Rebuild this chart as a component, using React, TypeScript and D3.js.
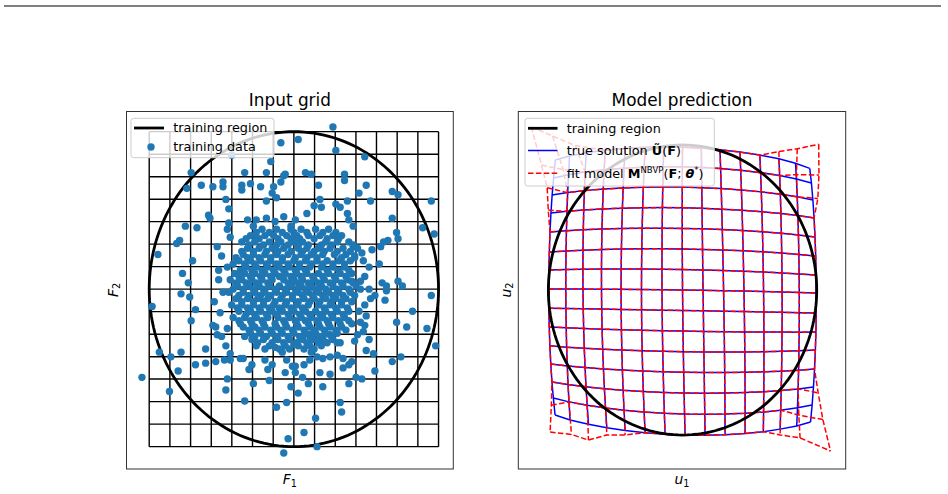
import React from 'react';
import * as d3 from 'd3';

const FONT = '"DejaVu Sans", "Liberation Sans", sans-serif';
const DOT = '#1f77b4';

// Input grid levels: 15 lines per direction across [-1, 1]
const gridLevels = [-1, -0.857, -0.714, -0.571, -0.429, -0.286, -0.143, 0, 0.143, 0.286, 0.429, 0.571, 0.714, 0.857, 1];

// Training samples (F1, F2), scattered part
const samplesOuter: [number, number][] = [
  [-0.43, 0.85], [-0.09, 0.93], [0.03, 0.95], [-0.16, 0.81], [-0.71, 0.74], [-0.34, 0.74], [-0.19, 0.74], [-0.06, 0.73], [0.08, 0.74], [0.12, 0.73],
  [-0.74, 0.64], [-0.64, 0.66], [-0.56, 0.65], [-0.49, 0.68], [-0.49, 0.65], [-0.36, 0.66], [-0.36, 0.63], [-0.30, 0.67], [-0.23, 0.65], [-0.14, 0.65],
  [-0.09, 0.68], [-0.07, 0.72], [-0.15, 0.61], [-0.47, 0.57], [-0.45, 0.51], [-0.19, 0.56], [-0.12, 0.58], [-0.59, 0.47], [-0.58, 0.45], [-0.75, 0.40],
  [-0.67, 0.39], [-0.45, 0.42], [-0.32, 0.44], [-0.26, 0.44], [-0.19, 0.45], [-0.13, 0.43], [-0.07, 0.46], [0.01, 0.44], [0.09, 0.48], [0.14, 0.53],
  [-0.79, 0.31], [-0.81, 0.29], [-0.94, 0.22], [-0.53, 0.27], [-0.46, 0.38], [-0.44, 0.33], [-0.26, 0.32], [-0.50, 0.21], [-0.70, 0.18], [-0.77, 0.10],
  [-0.73, 0.04], [-0.78, -0.03], [-0.72, -0.05], [-0.52, 0.06], [-0.49, -0.02], [-0.98, -0.11],
  [0.27, 1.03], [0.29, 0.88], [0.49, 0.84], [0.35, 0.73], [0.35, 0.69], [0.17, 0.66], [0.50, 0.66], [0.45, 0.61], [0.68, 0.62], [0.72, 0.60],
  [0.53, 0.56], [0.95, 0.56], [0.18, 0.57], [0.19, 0.52], [0.29, 0.54], [0.32, 0.52], [0.37, 0.56], [0.37, 0.48], [0.38, 0.44], [0.41, 0.40],
  [0.68, 0.45], [0.89, 0.39], [0.97, 0.35], [0.71, 0.36], [0.72, 0.32], [0.65, 0.31], [0.62, 0.30], [0.60, 0.27], [0.54, 0.25], [0.47, 0.23],
  [0.42, 0.21], [0.41, 0.27], [0.59, 0.16], [0.52, 0.14], [0.49, 0.08], [0.46, 0.05], [0.61, 0.04], [0.64, 0.02], [0.72, 0.05], [0.75, 0.02], [0.40, 0.05],
  [-0.68, -0.13], [-0.71, -0.20], [-0.56, -0.23], [-0.54, -0.24], [-0.46, -0.25], [-0.53, -0.29], [-0.50, -0.30], [-0.61, -0.38], [-0.78, -0.40], [-0.93, -0.40],
  [-0.85, -0.43], [-0.47, -0.36], [-0.44, -0.41], [-0.44, -0.45], [-0.48, -0.45], [-0.54, -0.46], [-0.61, -0.47], [-0.68, -0.48], [-0.80, -0.52], [-1.05, -0.56],
  [-0.86, -0.65], [-0.46, -0.57], [-0.47, -0.64], [-0.28, -0.60], [-0.34, -0.71], [-0.31, -0.51], [-0.29, -0.48], [-0.37, -0.44], [-0.35, -0.44], [-0.26, -0.36],
  [-0.20, -0.45], [-0.18, -0.51], [-0.17, -0.58], [-0.15, -0.48], [-0.12, -0.75], [-0.05, -0.72], [-0.06, -0.53], [-0.04, -0.95], [-0.07, -1.04], [-0.02, -0.62],
  [-0.13, -0.37], [-0.08, -0.40], [-0.05, -0.45], [-0.01, -0.49],
  [0.95, -0.04], [0.82, -0.14], [0.71, -0.21], [0.78, -0.24], [0.92, -0.25], [0.98, -0.36], [0.52, -0.32], [0.50, -0.39], [0.55, -0.41], [0.74, -0.43],
  [0.68, -0.46], [0.56, -0.52], [0.34, -0.44], [0.40, -0.46], [0.38, -0.48], [0.34, -0.50], [0.43, -0.56], [0.47, -0.57], [0.38, -0.60], [0.25, -0.54],
  [0.20, -0.62], [0.18, -0.53], [0.10, -0.60], [0.06, -0.56], [0.03, -0.66], [0.01, -0.53], [0.32, -0.72], [0.33, -0.78], [0.15, -0.82], [0.07, -0.91],
  [0.16, -1.00], [0.56, -0.04], [0.63, -0.07], [0.64, -0.01], [0.53, -0.06], [0.49, -0.10], [0.45, -0.14], [0.46, -0.21], [0.49, -0.23], [0.48, -0.27],
  [0.44, -0.29], [0.42, -0.33], [0.32, -0.34], [0.25, -0.29], [0.20, -0.31], [0.16, -0.32], [0.11, -0.29], [0.06, -0.31], [0.00, -0.35], [0.30, -0.42],
  [0.25, -0.43], [0.20, -0.44], [0.16, -0.43], [0.11, -0.45], [0.07, -0.48], [0.01, -0.49],
  [-0.52, 0.12], [-0.55, -0.08], [-0.51, -0.15], [0.52, 0.00], [0.50, -0.17], [-0.02, 0.40], [0.12, -0.40], [-0.28, 0.40],
];

// Training samples, dense central cluster: one F2 level with its F1 values per row
const samplesCoreRows: [number, number[]][] = [
  [0.38, [-0.22, -0.12, -0.02, 0.05, 0.15, 0.24]],
  [0.36, [-0.26, -0.17, -0.08, 0.00, 0.09, 0.20, 0.29]],
  [0.34, [-0.30, -0.20, -0.14, -0.05, 0.02, 0.10, 0.18, 0.27, 0.33]],
  [0.32, [-0.33, -0.24, -0.11, -0.02, 0.04, 0.14, 0.23, 0.31]],
  [0.30, [-0.36, -0.27, -0.17, -0.09, 0.00, 0.06, 0.22, 0.30, 0.38]],
  [0.28, [-0.31, -0.21, -0.12, -0.04, 0.03, 0.10, 0.19, 0.26, 0.41]],
  [0.26, [-0.32, -0.24, -0.15, -0.07, 0.03, 0.09, 0.17, 0.25, 0.34, 0.44]],
  [0.24, [-0.36, -0.28, -0.19, -0.11, -0.02, 0.06, 0.14, 0.21, 0.30, 0.39]],
  [0.22, [-0.35, -0.28, -0.20, -0.12, -0.04, 0.05, 0.12, 0.20, 0.28, 0.36]],
  [0.20, [-0.40, -0.32, -0.24, -0.16, -0.08, 0.01, 0.09, 0.16, 0.33, 0.42]],
  [0.18, [-0.38, -0.30, -0.23, -0.16, -0.08, 0.00, 0.08, 0.16, 0.23, 0.31, 0.39, 0.48]],
  [0.16, [-0.42, -0.34, -0.27, -0.19, -0.12, -0.04, 0.04, 0.12, 0.20, 0.27, 0.35]],
  [0.14, [-0.46, -0.33, -0.26, -0.18, -0.10, -0.03, 0.04, 0.11, 0.19, 0.27, 0.35]],
  [0.12, [-0.37, -0.29, -0.22, -0.14, -0.07, 0.01, 0.08, 0.23, 0.31, 0.38]],
  [0.10, [-0.41, -0.34, -0.27, -0.20, -0.13, -0.06, 0.02, 0.09, 0.17, 0.24, 0.32, 0.40]],
  [0.08, [-0.38, -0.30, -0.23, -0.16, -0.10, -0.02, 0.05, 0.13, 0.20, 0.28, 0.36]],
  [0.06, [-0.44, -0.36, -0.29, -0.22, -0.15, -0.07, 0.00, 0.06, 0.14, 0.21, 0.29, 0.37]],
  [0.04, [-0.40, -0.33, -0.26, -0.18, -0.04, 0.03, 0.10, 0.17, 0.25, 0.33, 0.41]],
  [0.02, [-0.39, -0.31, -0.24, -0.17, -0.10, -0.02, 0.05, 0.12, 0.19, 0.27, 0.34, 0.43]],
  [0.00, [-0.42, -0.35, -0.28, -0.21, -0.13, -0.06, 0.01, 0.08, 0.15, 0.22, 0.30, 0.38, 0.46]],
  [-0.02, [-0.45, -0.35, -0.27, -0.20, -0.12, -0.05, 0.03, 0.10, 0.17, 0.24, 0.31, 0.39]],
  [-0.04, [-0.38, -0.31, -0.23, -0.16, -0.08, -0.01, 0.06, 0.13, 0.20, 0.27, 0.34, 0.42]],
  [-0.06, [-0.40, -0.32, -0.25, -0.18, -0.09, -0.01, 0.07, 0.14, 0.22, 0.29, 0.36]],
  [-0.08, [-0.36, -0.28, -0.21, -0.13, -0.05, 0.03, 0.11, 0.18, 0.26, 0.33, 0.40]],
  [-0.10, [-0.43, -0.36, -0.28, -0.21, -0.14, -0.06, 0.02, 0.10, 0.17, 0.25, 0.33]],
  [-0.12, [-0.39, -0.32, -0.24, -0.17, -0.10, -0.02, 0.06, 0.21, 0.29, 0.37]],
  [-0.14, [-0.38, -0.30, -0.23, -0.15, -0.08, 0.00, 0.08, 0.15, 0.22, 0.30, 0.38]],
  [-0.16, [-0.33, -0.27, -0.19, -0.12, -0.04, 0.04, 0.11, 0.18, 0.26, 0.34]],
  [-0.18, [-0.42, -0.34, -0.26, -0.18, -0.11, -0.03, 0.05, 0.12, 0.20, 0.27, 0.35]],
  [-0.20, [-0.38, -0.30, -0.22, -0.07, 0.01, 0.08, 0.16, 0.23, 0.31, 0.38]],
  [-0.22, [-0.37, -0.29, -0.21, -0.13, -0.06, 0.02, 0.10, 0.17, 0.24, 0.32, 0.40]],
  [-0.24, [-0.35, -0.27, -0.20, -0.12, -0.05, 0.03, 0.11, 0.18, 0.25, 0.33]],
  [-0.26, [-0.31, -0.24, -0.16, -0.09, -0.01, 0.07, 0.14, 0.21, 0.29, 0.36]],
  [-0.28, [-0.30, -0.23, -0.15, -0.08, 0.00, 0.08, 0.15, 0.22, 0.30]],
  [-0.30, [-0.34, -0.27, -0.19, -0.12, -0.04, 0.04, 0.11, 0.18, 0.26]],
  [-0.32, [-0.29, -0.21, -0.11, -0.03, 0.06, 0.13, 0.20, 0.27]],
  [-0.34, [-0.25, -0.15, -0.07, 0.02, 0.09, 0.17, 0.23, 0.30]],
  [-0.36, [-0.17, -0.06, 0.03, 0.11, 0.19]],
  [-0.38, [-0.20, -0.10, -0.03, 0.07, 0.14]],
];

// True solution on the grid: u1 of each F1-line at the top, middle and bottom F2 rows
const trueColTop = [-0.948, -0.842, -0.718, -0.576, -0.428, -0.279, -0.14, 0.0, 0.14, 0.279, 0.428, 0.576, 0.718, 0.842, 0.948];
const trueColMid = [-0.997, -0.870, -0.742, -0.604, -0.458, -0.306, -0.153, 0.0, 0.153, 0.306, 0.458, 0.604, 0.742, 0.870, 0.997];
const trueColBot = [-0.950, -0.838, -0.701, -0.564, -0.428, -0.279, -0.130, 0.019, 0.168, 0.317, 0.466, 0.602, 0.727, 0.851, 0.954];
// u2 of each F2-line (top row first) at the left, middle and right F1 columns
const trueRowLeft = [0.897, 0.772, 0.655, 0.531, 0.40, 0.262, 0.138, 0.007, -0.125, -0.255, -0.385, -0.51, -0.634, -0.745, -0.862];
const trueRowMid = [0.985, 0.85, 0.71, 0.567, 0.425, 0.283, 0.141, 0.0, -0.141, -0.283, -0.425, -0.567, -0.71, -0.855, -1.0];
const trueRowRight = [0.839, 0.738, 0.621, 0.497, 0.366, 0.234, 0.103, -0.021, -0.159, -0.29, -0.414, -0.545, -0.669, -0.793, -0.91];

// Fit model departures from the true solution: [column, row (top = 0), du1, du2]
const fitOffsets: [number, number, number, number][] = [
  [0, 0, -0.179, 0.228], [1, 0, -0.127, 0.138], [2, 0, -0.08, 0.05], [0, 1, -0.09, 0.09], [1, 1, -0.04, 0.035], [0, 2, -0.037, 0.05], [0, 3, -0.02, 0.02],
  [14, 0, 0.067, 0.166], [13, 0, 0.013, 0.10], [12, 0, 0.0, 0.05], [14, 1, 0.056, 0.055], [14, 2, 0.037, 0.01], [13, 1, 0.0, 0.03],
  [14, 14, 0.149, -0.20], [13, 14, 0.025, -0.083], [12, 14, 0.0, -0.04], [14, 13, 0.08, -0.10], [14, 12, 0.035, -0.04], [13, 13, 0.01, -0.05],
  [0, 14, -0.037, -0.117], [1, 14, 0.01, -0.10], [2, 14, 0.0, -0.11], [3, 14, 0.0, -0.05], [4, 14, 0.0, -0.03], [0, 13, -0.015, -0.05],
];

const legendLeft = ['training region', 'training data'];

// quadratic through (-1, a), (0, m), (1, b)
function quad(a: number, m: number, b: number, t: number) {
  return m + (t * (b - a)) / 2 + t * t * ((a + b) / 2 - m);
}

function buildGrid(offsets: [number, number, number, number][]) {
  const nodes: [number, number][][] = []; // nodes[i][j]
  for (let i = 0; i < 15; i++) {
    const col: [number, number][] = [];
    for (let j = 0; j < 15; j++) {
      const f1 = gridLevels[i];
      const f2 = gridLevels[14 - j];
      let u1 = quad(trueColBot[i], trueColMid[i], trueColTop[i], f2);
      let u2 = quad(trueRowLeft[j], trueRowMid[j], trueRowRight[j], f1);
      const o = offsets.find((d) => d[0] === i && d[1] === j);
      if (o) {
        u1 += o[2];
        u2 += o[3];
      }
      col.push([u1, u2]);
    }
    nodes.push(col);
  }
  const lines: [number, number][][] = [];
  for (let i = 0; i < 15; i++) lines.push(nodes[i]);
  for (let j = 0; j < 15; j++) lines.push(nodes.map((c) => c[j]));
  return lines;
}

const L = { x0: 126.5, x1: 453.3, y0: 111.5, y1: 469 };
const R = { x0: 518.3, x1: 845.7, y0: 111.5, y1: 469 };

export default function App() {
  const xL = d3.scaleLinear().domain([-1.157, 1.102]).range([L.x0, L.x1]);
  const yL = d3.scaleLinear().domain([-1.142, 1.128]).range([L.y1, L.y0]);
  const xR = d3.scaleLinear().domain([-1.224, 1.216]).range([R.x0, R.x1]);
  const yR = d3.scaleLinear().domain([-1.234, 1.231]).range([R.y1, R.y0]);

  const samples: [number, number][] = [
    ...samplesOuter,
    ...samplesCoreRows.flatMap(([f2, xs]) => xs.map((f1) => [f1, f2] as [number, number])),
  ];

  const angles = d3.range(0, 361, 2).map((a) => (a * Math.PI) / 180);
  const circleL = d3.line<number>().x((a) => xL(Math.cos(a))).y((a) => yL(Math.sin(a)))(angles) || '';
  const circleR = d3.line<number>().x((a) => xR(Math.cos(a))).y((a) => yR(Math.sin(a)))(angles) || '';

  const lineR = d3.line<[number, number]>().x((d) => xR(d[0])).y((d) => yR(d[1]));
  const trueLines = buildGrid([]);
  const fitLines = buildGrid(fitOffsets);

  const lo = gridLevels[0];
  const hi = gridLevels[14];

  return (
    <svg width={948} height={494} style={{ position: 'absolute', left: 0, top: 0, background: '#fff' }} fontFamily={FONT}>
      <line x1={4} x2={941} y1={6} y2={6} stroke="#000" strokeWidth={1} />

      <defs>
        <clipPath id="clipL"><rect x={L.x0} y={L.y0} width={L.x1 - L.x0} height={L.y1 - L.y0} /></clipPath>
        <clipPath id="clipR"><rect x={R.x0} y={R.y0} width={R.x1 - R.x0} height={R.y1 - R.y0} /></clipPath>
      </defs>

      {/* Left panel: input grid */}
      <g clipPath="url(#clipL)">
        {gridLevels.map((v, k) => (
          <g key={k}>
            <line x1={xL(v)} x2={xL(v)} y1={yL(lo)} y2={yL(hi)} stroke="#000" strokeWidth={1.4} />
            <line x1={xL(lo)} x2={xL(hi)} y1={yL(v)} y2={yL(v)} stroke="#000" strokeWidth={1.4} />
          </g>
        ))}
        <path d={circleL} fill="none" stroke="#000" strokeWidth={2.8} />
        {samples.map((d, k) => (
          <circle key={k} cx={xL(d[0])} cy={yL(d[1])} r={3.7} fill={DOT} />
        ))}
      </g>
      <rect x={L.x0} y={L.y0} width={L.x1 - L.x0} height={L.y1 - L.y0} fill="none" stroke="#333" strokeWidth={1} />
      <text x={(L.x0 + L.x1) / 2} y={105.7} textAnchor="middle" fontSize={16.9} fill="#000">Input grid</text>
      <text x={(L.x0 + L.x1) / 2} y={484} textAnchor="middle" fontSize={13.9} fill="#000">
        <tspan fontStyle="italic">F</tspan>
        <tspan fontSize={9.7} dy={2.5}>1</tspan>
      </text>
      <text transform="translate(117.5,290) rotate(-90)" textAnchor="middle" fontSize={13.9} fill="#000">
        <tspan fontStyle="italic">F</tspan>
        <tspan fontSize={9.7} dy={2.5}>2</tspan>
      </text>

      {/* Left legend */}
      <rect x={131} y={118.3} width={143} height={39.4} rx={2.8} fill="#fff" fillOpacity={0.8} stroke="#ccc" strokeWidth={1} />
      <line x1={134} x2={164} y1={128} y2={128} stroke="#000" strokeWidth={2.8} />
      <text x={173.3} y={132} fontSize={12.8} fill="#000">{legendLeft[0]}</text>
      <circle cx={151} cy={147} r={3.7} fill={DOT} />
      <text x={173.3} y={150.5} fontSize={12.8} fill="#000">{legendLeft[1]}</text>

      {/* Right panel: model prediction */}
      <g clipPath="url(#clipR)">
        {trueLines.map((l, k) => (
          <path key={k} d={lineR(l) || ''} fill="none" stroke="#0000ff" strokeWidth={1.5} />
        ))}
        {fitLines.map((l, k) => (
          <path key={k} d={lineR(l) || ''} fill="none" stroke="#ff0000" strokeWidth={1.5} strokeDasharray="5.5 2.4" />
        ))}
        <path d={circleR} fill="none" stroke="#000" strokeWidth={2.8} />
      </g>
      <rect x={R.x0} y={R.y0} width={R.x1 - R.x0} height={R.y1 - R.y0} fill="none" stroke="#333" strokeWidth={1} />
      <text x={(R.x0 + R.x1) / 2} y={105.7} textAnchor="middle" fontSize={16.9} fill="#000">Model prediction</text>
      <text x={(R.x0 + R.x1) / 2} y={484} textAnchor="middle" fontSize={13.9} fill="#000">
        <tspan fontStyle="italic">u</tspan>
        <tspan fontSize={9.7} dy={2.5}>1</tspan>
      </text>
      <text transform="translate(510.5,290) rotate(-90)" textAnchor="middle" fontSize={13.9} fill="#000">
        <tspan fontStyle="italic">u</tspan>
        <tspan fontSize={9.7} dy={2.5}>2</tspan>
      </text>

      {/* Right legend */}
      <rect x={525} y={118.3} width={189.3} height={67.7} rx={2.8} fill="#fff" fillOpacity={0.8} stroke="#ccc" strokeWidth={1} />
      <line x1={528} x2={557.5} y1={128.3} y2={128.3} stroke="#000" strokeWidth={2.8} />
      <text x={566.7} y={132.5} fontSize={12.8} fill="#000">training region</text>
      <line x1={528} x2={557.5} y1={150.5} y2={150.5} stroke="#0000ff" strokeWidth={1.5} />
      <text x={566.7} y={155} fontSize={12.8} fill="#000">
        true solution <tspan fontWeight="bold">{'\u0168'}</tspan>(<tspan fontWeight="bold">F</tspan>)
      </text>
      <line x1={528} x2={557.5} y1={173.3} y2={173.3} stroke="#ff0000" strokeWidth={1.5} strokeDasharray="5.5 2.4" />
      <text x={566.7} y={178} fontSize={12.8} fill="#000">
        fit model <tspan fontWeight="bold">M</tspan>
        <tspan fontSize={8.5} dy={-5}>NBVP</tspan>
        <tspan dy={5}>(</tspan>
        <tspan fontWeight="bold">F</tspan>; <tspan fontWeight="bold" fontStyle="italic">{'\u03b8'}</tspan>
        <tspan fontSize={8.5} dy={-5}>*</tspan>
        <tspan dy={5}>)</tspan>
      </text>
    </svg>
  );
}
